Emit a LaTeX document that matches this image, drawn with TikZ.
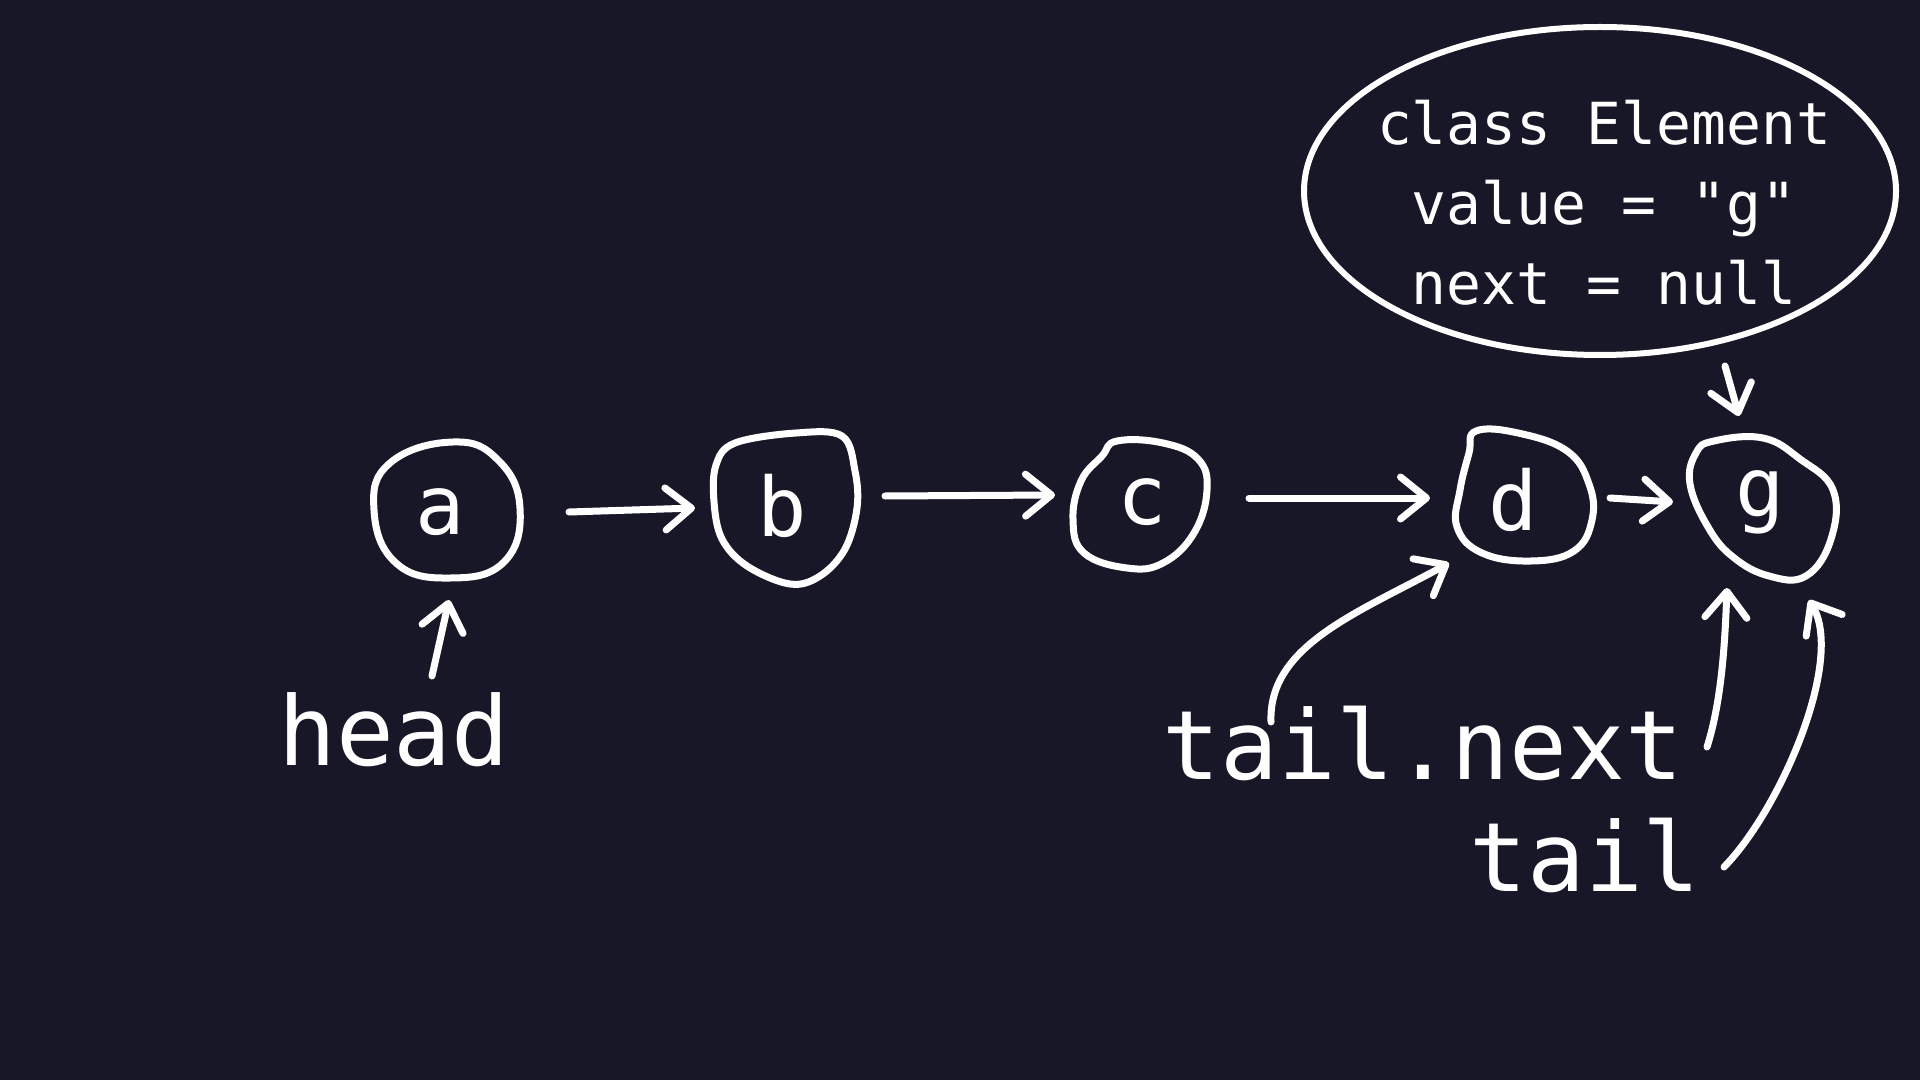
\documentclass[tikz,border=0pt]{standalone}
\usepackage{fontspec}
\setmainfont{DejaVu Sans Mono}
\newfontfamily\codefont[Ligatures=NoCommon]{DejaVu Sans Mono}
\usetikzlibrary{arrows.meta,shapes.geometric}
\definecolor{bgc}{HTML}{181727}
\tikzset{
  hand/.style={draw=white, line width=3.5pt, line cap=round, line join=round},
  arr/.style={hand, -{Straight Barb[length=13pt,width=21pt,line cap=round,line join=round]}},
  elem/.style={circle, minimum size=70pt, inner sep=0pt, text=white, font=\codefont\fontsize{41}{41}\selectfont},
  lbl/.style={anchor=base, text=white, inner sep=0pt, font=\codefont\fontsize{48}{48}\selectfont},
}
\begin{document}
\begin{tikzpicture}[x=0.5pt,y=-0.5pt]
\fill[bgc] (0,0) rectangle (1920,1080);
\useasboundingbox (0,0) rectangle (1920,1080);

% element nodes
\node[elem] (a) at (440,512) {a};
\node[elem] (b) at (782,506) {b};
\node[elem] (c) at (1142,502) {c};
\node[elem] (d) at (1513,500) {d};
\node[elem] (g) at (1760,502) {g};

% hand-drawn outlines
\draw[hand] plot[smooth cycle, tension=0.75] coordinates {(453,442) (498,460) (520,508) (504,562) (450,578) (396,563) (374,510) (390,463)};
\draw[hand] plot[smooth cycle, tension=0.6] coordinates {(716,465) (735,443) (796,433) (842,436) (855,471) (857,508) (845,549) (820,576) (790,584) (747,566) (722,539) (714,502)};
\draw[hand] plot[smooth cycle, tension=0.7] coordinates {(1117,441) (1163,443) (1198,459) (1207,490) (1194,533) (1163,563) (1127,568) (1084,553) (1073,520) (1081,481) (1102,456)};
\draw[hand] plot[smooth cycle, tension=0.7] coordinates {(1476,431) (1518,433) (1567,451) (1589,484) (1592,520) (1574,551) (1531,561) (1482,553) (1457,527) (1460,490) (1469,453)};
\draw[hand] plot[smooth cycle, tension=0.7] coordinates {(1714,441) (1763,438) (1800,459) (1833,490) (1831,539) (1806,576) (1769,576) (1733,557) (1708,527) (1690,484) (1696,453)};

% class box
\node[ellipse, draw=white, line width=3pt, minimum width=296pt, minimum height=164pt, inner sep=0pt] (cls) at (1600,191) {};
\node[align=center, text=white, inner sep=0pt, font=\codefont\fontsize{29}{40}\selectfont] (clstext) at (1604,203)
  {class Element\\value = "g"\\next = null};

% labels
\node[lbl] (head) at (394,765) {head};
\node[lbl] (tn) at (1423,779) {tail.next};
\node[lbl] (tail) at (1585,891) {tail};

% list arrows
\draw[arr] ([shift={(129,0)}]a.center) -- ([shift={(-87,2)}]b.center);
\draw[arr] ([shift={(103,-10)}]b.center) -- ([shift={(-87,-7)}]c.center);
\draw[arr] ([shift={(107,-4)}]c.center) -- ([shift={(-83,-2)}]d.center);
\draw[arr] ([shift={(97,-2)}]d.center) -- ([shift={(-87,0)}]g.center);

% pointer arrows
\draw[arr] ([shift={(125,8)}]cls.south) -- ([shift={(-21,-86)}]g.center);
\draw[arr] ([shift={(38,-89)}]head.base) -- ([shift={(9,88)}]a.center);
\draw[arr] ([shift={(-152,-57)}]tn.base) .. controls (1268,645) and (1360,612) .. ([shift={(-64,63)}]d.center);
\draw[arr] ([shift={(284,-32)}]tn.base) .. controls (1722,700) and (1725,640) .. ([shift={(-33,86)}]g.center);
\draw[arr] ([shift={(139,-24)}]tail.base) .. controls (1780,810) and (1845,660) .. ([shift={(49,98)}]g.center);
\end{tikzpicture}
\end{document}
